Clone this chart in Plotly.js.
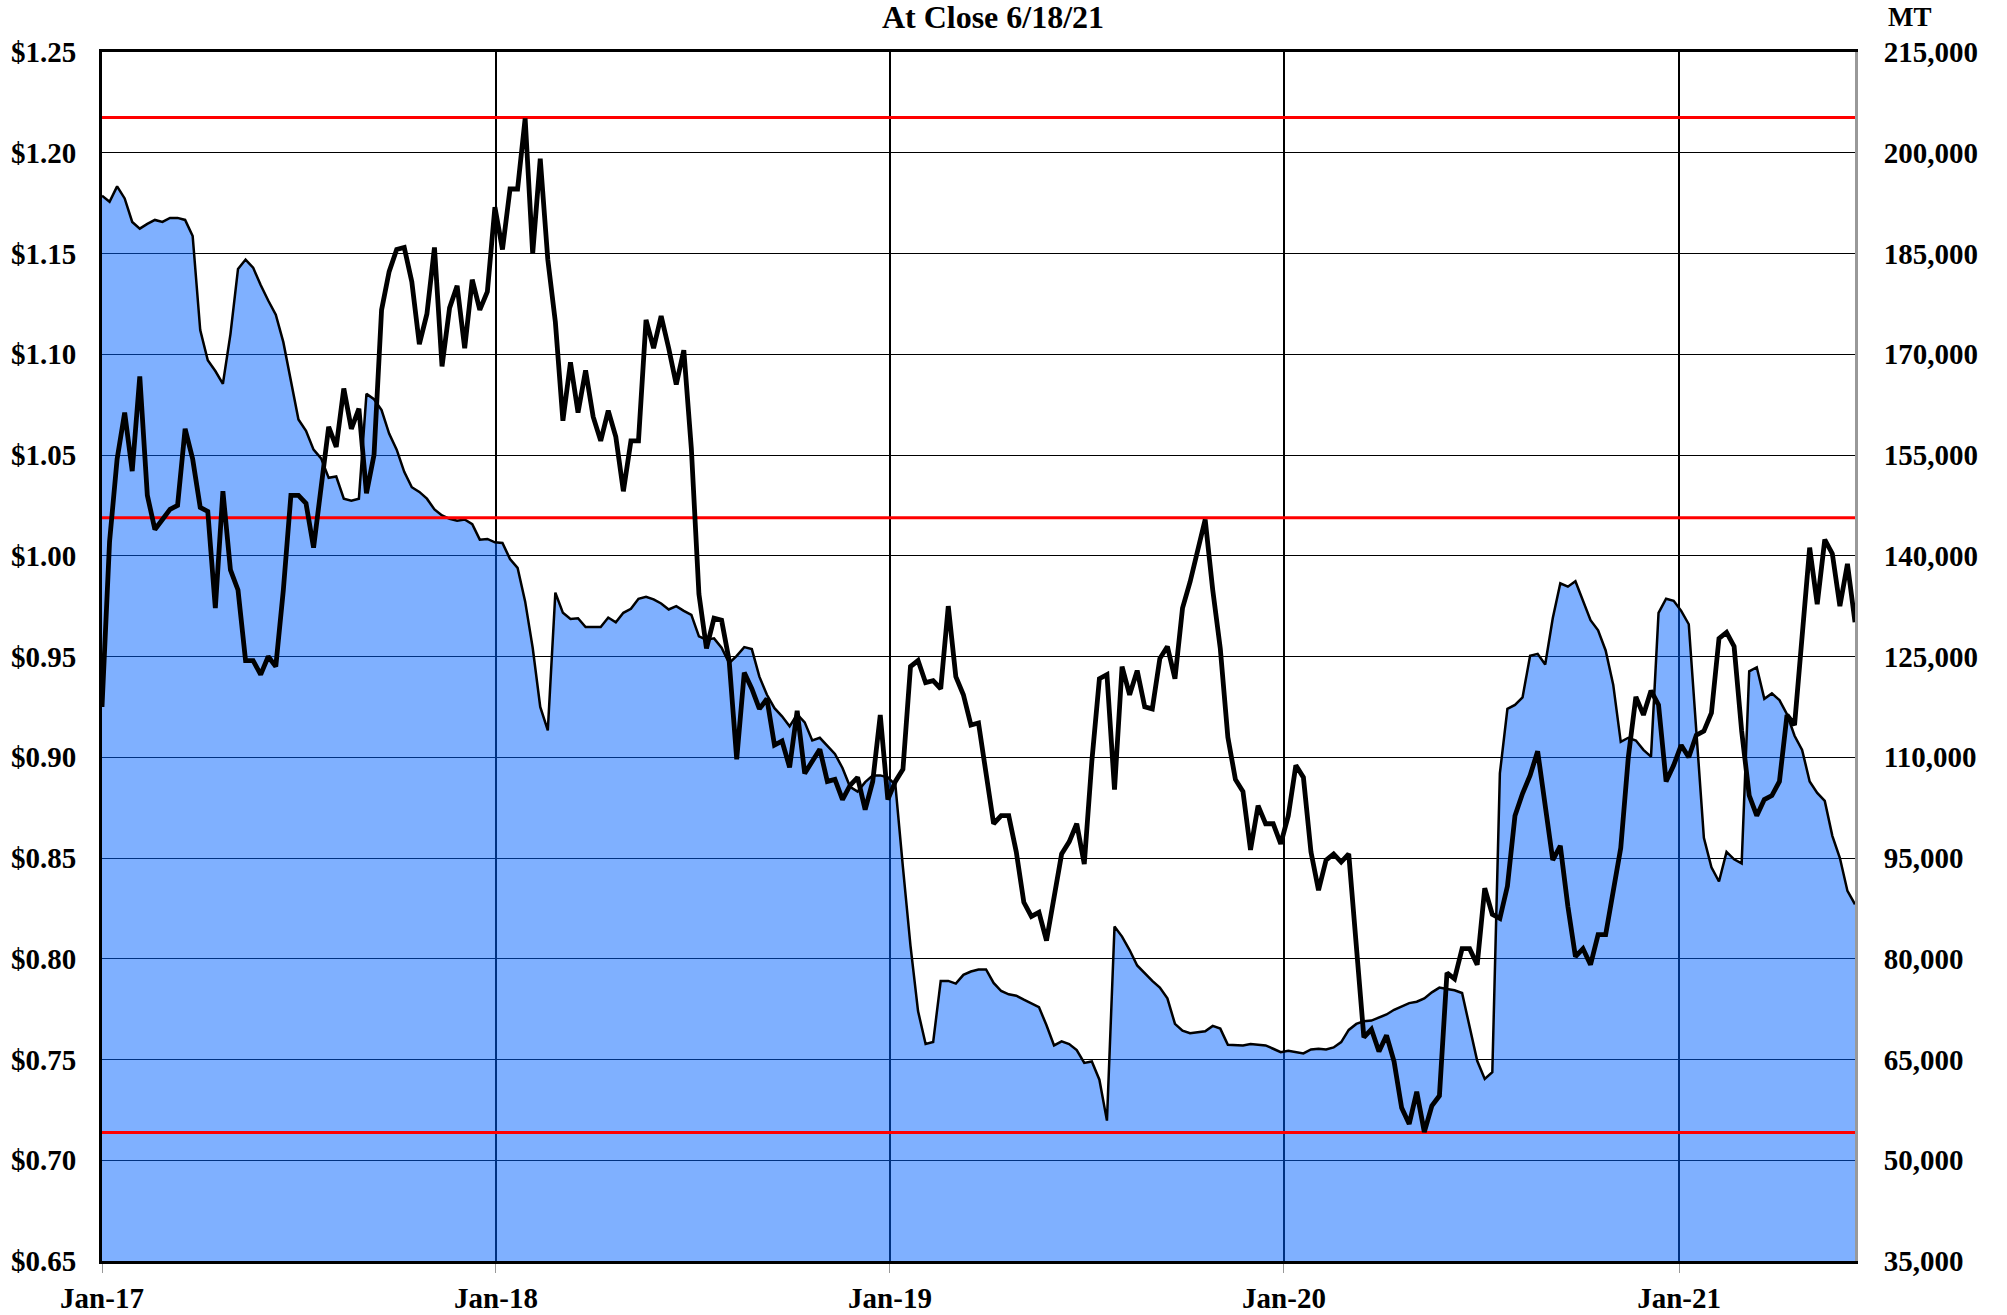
<!DOCTYPE html>
<html>
<head>
<meta charset="utf-8">
<script src="https://cdn.plot.ly/plotly-3.0.1.min.js"></script>
<style>
html,body{margin:0;padding:0;background:#fff;}
#chart{width:2007px;height:1315px;}
</style>
</head>
<body>
<div id="chart"></div>
<script>
// Weekly series, first week 2017-01-01, last week 2021-06-13 (close 6/18/21)
const firstWeek = '2017-01-01';
const chartTitle = 'At Close 6/18/21';
const rightAxisLabel = 'MT';

// Price ($/lb), black line, left axis
const price = [
0.925,1.007,1.048,1.071,1.042,1.089,1.030,1.013,1.018,1.023,
1.025,1.063,1.048,1.024,1.022,0.974,1.032,0.993,0.983,0.948,
0.948,0.941,0.950,0.945,0.983,1.030,1.030,1.026,1.004,1.036,
1.064,1.054,1.083,1.063,1.073,1.031,1.050,1.122,1.141,1.152,
1.153,1.136,1.105,1.120,1.153,1.094,1.123,1.134,1.103,1.137,
1.122,1.131,1.173,1.152,1.182,1.182,1.217,1.150,1.197,1.147,
1.116,1.067,1.096,1.071,1.092,1.069,1.057,1.072,1.059,1.032,
1.057,1.057,1.117,1.103,1.119,1.103,1.085,1.102,1.053,0.981,
0.954,0.969,0.968,0.948,0.899,0.942,0.934,0.924,0.929,0.906,
0.908,0.895,0.923,0.892,0.898,0.904,0.888,0.889,0.879,0.886,
0.890,0.874,0.888,0.921,0.879,0.888,0.894,0.945,0.948,0.937,
0.938,0.934,0.975,0.940,0.931,0.916,0.917,0.893,0.867,0.871,
0.871,0.853,0.828,0.821,0.823,0.809,0.832,0.852,0.858,0.867,
0.847,0.898,0.939,0.941,0.884,0.945,0.931,0.943,0.925,0.924,
0.949,0.955,0.939,0.974,0.987,1.002,1.018,0.983,0.954,0.910,
0.889,0.883,0.854,0.876,0.867,0.867,0.857,0.871,0.896,0.890,
0.853,0.834,0.849,0.852,0.848,0.852,0.803,0.761,0.765,0.754,
0.762,0.749,0.726,0.718,0.734,0.714,0.727,0.732,0.793,0.790,
0.805,0.805,0.797,0.835,0.822,0.820,0.836,0.871,0.882,0.891,
0.903,0.878,0.849,0.856,0.826,0.801,0.805,0.797,0.812,0.812,
0.835,0.855,0.900,0.930,0.921,0.933,0.926,0.888,0.896,0.906,
0.900,0.911,0.913,0.922,0.959,0.962,0.955,0.913,0.881,0.871,
0.879,0.881,0.888,0.921,0.916,0.958,1.004,0.976,1.008,1.001,
0.975,0.996,0.967];

// Stocks (MT), blue area, right axis
const stocksMT = [
193600,192700,195000,193200,189700,188700,189400,190000,189700,190300,
190300,190000,187600,173600,169100,167500,165600,173000,182700,184100,
182900,180300,178000,175900,171800,166300,160300,158600,155800,154500,
151600,151800,148500,148200,148500,164100,163300,161700,158200,155800,
152500,150200,149500,148500,146900,146000,145500,145200,145400,144700,
142400,142500,142000,141900,139500,138200,133200,126300,117500,114000,
134500,131500,130600,130700,129400,129400,129400,130800,130100,131500,
132100,133600,133900,133500,132900,132000,132500,131800,131200,128000,
127500,127700,126300,124000,125100,126400,126100,122000,119300,117300,
116100,114600,116400,115200,112500,112900,111700,110500,108400,105600,
104900,106300,107300,107300,107000,105900,93600,81900,72200,67300,
67600,76700,76700,76300,77600,78100,78400,78400,76400,75200,
74700,74500,73900,73400,72800,70100,67100,67700,67300,66400,
64500,64700,62000,55900,84800,83300,81300,79000,77800,76700,
75700,74100,70300,69300,68900,69100,69200,70000,69600,67200,
67100,67100,67300,67200,67100,66600,66100,66300,66100,65900,
66500,66600,66500,66800,67600,69400,70300,70700,70800,71300,
71700,72400,72900,73400,73600,74100,75000,75700,75500,75300,
74900,69900,64800,62100,63100,107600,117200,117800,118900,125100,
125400,123800,130700,135900,135400,136200,133400,130400,128900,125900,
120800,112300,112900,112500,111100,110100,131500,133600,133300,131800,
129800,114000,98000,93600,91500,95900,94800,94200,122800,123400,
118700,119500,118500,116400,113200,111100,106400,104700,103500,98300,
95000,90100,88100];

// Red reference levels ($/lb): period high, middle level, period low
const refLevels = [1.2175, 1.0188, 0.7138];

// Axis definitions
const priceAxisRange = [0.65, 1.25];
const priceAxisStep = 0.05;
const mtAxisRange = [35000, 215000];
const mtAxisStep = 15000;

// weekly dates
const dates = [];
(function(){
  const d0 = new Date(firstWeek + 'T00:00:00Z');
  for (let i = 0; i < price.length; i++) {
    const d = new Date(d0.getTime() + i * 7 * 86400000);
    dates.push(d.toISOString().slice(0,10));
  }
})();

const FONT = 'Liberation Serif, Times New Roman, serif';

const traces = [
  {
    x: dates, y: stocksMT, type: 'scatter', mode: 'lines', yaxis: 'y',
    fill: 'tozeroy', fillcolor: 'rgba(0,98,255,0.5)',
    line: {color: '#000', width: 2.5}, hoverinfo: 'skip'
  }
];
refLevels.forEach(v => traces.push({
  x: [dates[0], dates[dates.length-1]], y: [v, v], type: 'scatter', mode: 'lines',
  yaxis: 'y2', line: {color: '#ff0000', width: 3}, hoverinfo: 'skip'
}));
traces.push({
  x: dates, y: price, type: 'scatter', mode: 'lines', yaxis: 'y2',
  line: {color: '#000', width: 4.8}, hoverinfo: 'skip'
});

const tickFont = {family: FONT, size: 29, color: '#000', weight: 'bold'};

const layout = {
  width: 2007, height: 1315,
  paper_bgcolor: '#fff', plot_bgcolor: '#fff',
  showlegend: false, hovermode: false,
  margin: {l: 102, r: 152, t: 52, b: 54, pad: 0},
  title: {
    text: chartTitle, font: {family: FONT, size: 32, color: '#000', weight: 'bold'},
    xref: 'container', x: 993/2007, xanchor: 'center',
    yref: 'container', y: 1 - 17/1315, yanchor: 'middle'
  },
  xaxis: {
    type: 'date', range: [dates[0], dates[dates.length-1]],
    tick0: firstWeek, dtick: 'M12', tickformat: '%b-%y',
    showgrid: true, gridcolor: '#000', gridwidth: 2,
    showline: true, linecolor: '#000', linewidth: 3, mirror: true,
    ticks: 'outside', ticklen: 9, tickcolor: '#999', tickwidth: 1,
    tickfont: tickFont, ticklabelstandoff: 0, zeroline: false
  },
  yaxis: {
    range: mtAxisRange, tick0: mtAxisRange[0], dtick: mtAxisStep,
    side: 'right', tickformat: ',d',
    showgrid: true, gridcolor: '#000', gridwidth: 1,
    showline: true, linecolor: '#999', linewidth: 3,
    ticks: '', tickfont: tickFont, ticklabelstandoff: 20, zeroline: false
  },
  yaxis2: {
    overlaying: 'y', side: 'left',
    range: priceAxisRange, tick0: priceAxisRange[0], dtick: priceAxisStep,
    tickformat: '$.2f',
    showgrid: false, showline: true, linecolor: '#000', linewidth: 3,
    ticks: '', tickfont: tickFont, ticklabelstandoff: 17, zeroline: false
  },
  annotations: [{
    text: rightAxisLabel, showarrow: false,
    xref: 'paper', x: (1910-102)/1753, xanchor: 'center',
    yref: 'paper', y: (1261-17)/1209, yanchor: 'middle',
    font: {family: FONT, size: 27, color: '#000', weight: 'bold'}
  }]
};

Plotly.newPlot('chart', traces, layout, {displayModeBar: false, staticPlot: true});
</script>
</body>
</html>
